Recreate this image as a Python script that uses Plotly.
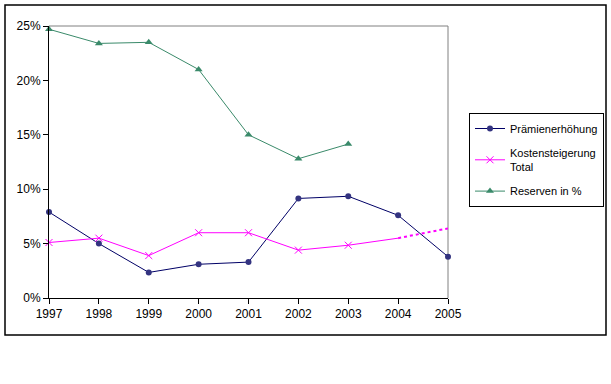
import plotly.graph_objects as go

years = [1997, 1998, 1999, 2000, 2001, 2002, 2003, 2004, 2005]
praemien = [0.079, 0.050, 0.0235, 0.031, 0.033, 0.0915, 0.0935, 0.076, 0.038]
kosten_years = [1997, 1998, 1999, 2000, 2001, 2002, 2003]
kosten = [0.051, 0.055, 0.039, 0.060, 0.060, 0.044, 0.0485]
kosten_ext_years = [2003, 2004]
kosten_ext = [0.0485, 0.055]
kosten_dot_years = [2004, 2005]
kosten_dot = [0.055, 0.064]
reserven_years = [1997, 1998, 1999, 2000, 2001, 2002, 2003]
reserven = [0.247, 0.234, 0.235, 0.210, 0.150, 0.128, 0.1415]
y_ticks = [0, 0.05, 0.10, 0.15, 0.20, 0.25]

NAVY = "#333380"
MAG = "#ff00ff"
GREEN = "#3a8a6a"

fig = go.Figure()
fig.add_trace(go.Scatter(x=years, y=praemien, mode="lines+markers", name="Prämienerhöhung",
                         line=dict(color="#000066", width=1),
                         marker=dict(symbol="circle", size=6, color=NAVY),
                         cliponaxis=False, legendgroup="a"))
fig.add_trace(go.Scatter(x=kosten_years, y=kosten, mode="lines+markers", name="Kostensteigerung<br>Total",
                         line=dict(color=MAG, width=1),
                         marker=dict(symbol="x-thin", size=7, color=MAG, line=dict(color=MAG, width=1)),
                         cliponaxis=False, legendgroup="b"))
fig.add_trace(go.Scatter(x=kosten_ext_years, y=kosten_ext, mode="lines", showlegend=False,
                         line=dict(color=MAG, width=1), legendgroup="b"))
fig.add_trace(go.Scatter(x=kosten_dot_years, y=kosten_dot, mode="lines", showlegend=False,
                         line=dict(color=MAG, width=2, dash="dot"), legendgroup="b"))
fig.add_trace(go.Scatter(x=reserven_years, y=reserven, mode="lines+markers", name="Reserven in %",
                         line=dict(color=GREEN, width=1),
                         marker=dict(symbol="triangle-up", size=7, color=GREEN),
                         cliponaxis=False, legendgroup="c"))

L, R, T, B = 49, 448, 26, 298
W, H = 611, 384
pw, ph = R - L, B - T

def px(x):
    return (x - L) / pw

def py(y):
    return (B - y) / ph

fig.update_layout(
    width=W, height=H,
    margin=dict(l=L, r=W - R, t=T, b=H - B, autoexpand=False),
    paper_bgcolor="white", plot_bgcolor="white",
    font=dict(family="Liberation Sans, Arial, sans-serif", size=12, color="black"),
    legend=dict(x=469 / W, y=1 - 113 / H, xref="container", yref="container",
                xanchor="left", yanchor="top",
                bordercolor="black", borderwidth=1, bgcolor="white",
                font=dict(size=11), tracegroupgap=6, itemwidth=30,
                traceorder="grouped"),
    xaxis=dict(range=[1997, 2005], tickmode="array", tickvals=years,
               ticktext=[str(y) for y in years], automargin=False,
               showgrid=False, zeroline=False, showline=True, linecolor="black", linewidth=1,
               ticks="outside", ticklen=5, tickcolor="black"),
    yaxis=dict(range=[0, 0.25], tickvals=y_ticks, tickformat=".0%", automargin=False,
               showgrid=False, zeroline=False, showline=True, linecolor="black", linewidth=1,
               ticks="outside", ticklen=5, tickcolor="black"),
    shapes=[
        dict(type="line", xref="paper", yref="paper", x0=0, x1=1, y0=1, y1=1,
             line=dict(color="#808080", width=1), layer="below"),
        dict(type="line", xref="paper", yref="paper", x0=1, x1=1, y0=0, y1=1,
             line=dict(color="#808080", width=1), layer="below"),
        dict(type="rect", xref="paper", yref="paper", x0=px(5), x1=px(606), y0=py(335), y1=py(5),
             line=dict(color="black", width=1.5)),
    ],
)

fig.write_html("out.html", config={"displayModeBar": False},
               post_script="document.body.style.margin='0';document.body.style.padding='0';")
